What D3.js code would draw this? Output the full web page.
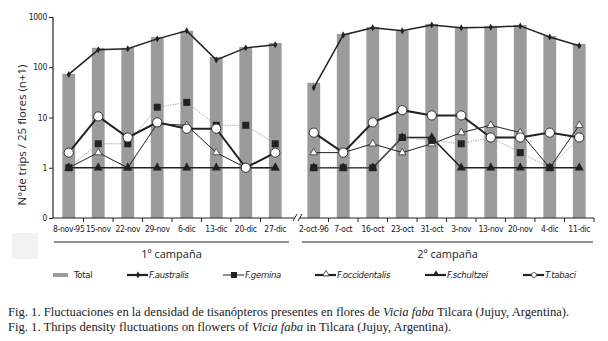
<!DOCTYPE html>
<html lang="es">
<head>
<meta charset="UTF-8">
<title>Fluctuaciones de tisanópteros en Vicia faba</title>
<script src="https://d3js.org/d3.v7.min.js"></script>
<style>
  body { margin: 0; background: #fff; }
  svg text { fill: #222; }
  .tick-lbl { font-family: "DejaVu Sans Condensed", "Liberation Sans Narrow", "Open Sans", sans-serif; font-stretch: condensed; font-size: 8.5px; letter-spacing: -0.3px; }
  .cap { font-family: "Liberation Serif", "DejaVu Serif", serif; font-size: 12.6px; }
</style>
</head>
<body>
<div id="chart"></div>
<script>
// fechas de muestreo, una lista por campaña
const dates1 = ["8-nov-95","15-nov","22-nov","29-nov","6-dic","13-dic","20-dic","27-dic"];
const dates2 = ["2-oct-96","7-oct","16-oct","23-oct","31-oct","3-nov","13-nov","20-nov","4-dic","11-dic"];

// n+1 trips / 25 flores (8 fechas 1a campaña + 10 fechas 2a campaña)
const total        = [74, 243, 243, 400, 530, 160, 253, 305,   49, 460, 635, 530, 730, 610, 665, 695, 420, 293];
const australis    = [72, 222, 233, 367, 530, 140, 243, 280,   39, 440, 610, 530, 690, 610, 625, 665, 400, 267];
const gemina       = [1, 3, 3, 16, 20, 7, 7, 3,                1, 1, 1, 4, 3.5, 3, 4, 2, 1, 4];
const occidentalis = [1, 2, 1, 7.5, 7, 2, 1, 1,                2, 2, 3, 2, 3, 5, 7, 5, 1, 7];
const schultzei    = [1, 1, 1, 1, 1, 1, 1, 1,                  1, 1, 1, 4, 4, 1, 1, 1, 1, 1];
const tabaci       = [2, 10.5, 4, 8, 6, 6, 1, 2,               5, 2, 8, 14, 11, 11, 4, 4, 5, 4];

const yTicks = [0.1, 1, 10, 100, 1000];
const yTickLabels = ["0", "1", "10", "100", "1000"];
const campaigns = ["1º campaña", "2º campaña"];

const width = 608, height = 341;
const svg = d3.select("#chart").append("svg")
  .attr("width", width).attr("height", height);

const y = d3.scaleLog().domain([0.1, 1000]).range([218, 17]);
const x1 = d3.scaleBand().domain(dates1).range([54, 290]).paddingInner(0.6).paddingOuter(0.3);
const x2 = d3.scaleBand().domain(dates2).range([299, 594]).paddingInner(0.6).paddingOuter(0.3);

// rows: one per date, with campaign index
const rows = dates1.map(d => ({date: d, c: 0})).concat(dates2.map(d => ({date: d, c: 1})));
rows.forEach((r, i) => {
  const sc = r.c === 0 ? x1 : x2;
  r.x = sc(r.date);
  r.cx = sc(r.date) + sc.bandwidth() / 2;
  r.i = i;
});

// little grey artefact box at left
svg.append("rect").attr("x", 12).attr("y", 233).attr("width", 26).attr("height", 26).attr("fill", "#f2f2f2");

// bars
svg.append("g").selectAll("rect")
  .data(rows)
  .join("rect")
  .attr("x", d => d.x - 0.5)
  .attr("width", x1.bandwidth() + 1)
  .attr("y", d => y(total[d.i]))
  .attr("height", d => 218 - y(total[d.i]))
  .attr("fill", "#9b9b9d");

// y axis
const yAxis = d3.axisLeft(y).tickValues(yTicks).tickFormat((d, i) => yTickLabels[i]).tickSize(4).tickPadding(2);
const gy = svg.append("g").attr("transform", "translate(53,0)").call(yAxis);
gy.select(".domain").attr("stroke", "#222").attr("stroke-width", 1.2).attr("d", "M0,17V218");
gy.selectAll("text").attr("class", "tick-lbl").attr("fill", "#222");
gy.selectAll(".tick line").attr("stroke", "#222");

// x axis: two segments with break
function xSeg(sc, dates, x0, x1e, first) {
  const g = svg.append("g");
  g.append("line").attr("x1", x0).attr("x2", x1e).attr("y1", 218).attr("y2", 218)
    .attr("stroke", "#222").attr("stroke-width", 1.2);
  const step = sc.step();
  const bounds = dates.map(d => sc(d) - (step - sc.bandwidth()) / 2).slice(1);
  bounds.push(sc(dates[dates.length - 1]) + sc.bandwidth() + (step - sc.bandwidth()) / 2);
  if (first) bounds.pop();
  g.selectAll(".tk").data(bounds).join("line")
    .attr("x1", d => d).attr("x2", d => d).attr("y1", 218).attr("y2", 222)
    .attr("stroke", "#222");
  g.selectAll("text").data(dates).join("text")
    .attr("class", "tick-lbl")
    .attr("x", d => sc(d) + sc.bandwidth() / 2)
    .attr("y", 232)
    .attr("text-anchor", "middle")
    .text(d => d);
}
xSeg(x1, dates1, 53, 294, true);
xSeg(x2, dates2, 300, 594, false);
// break marks
[[293, 299], [298, 304]].forEach(([a, b]) => {
  svg.append("line").attr("x1", a).attr("x2", b - 2).attr("y1", 221).attr("y2", 214)
    .attr("stroke", "#222").attr("stroke-width", 1);
});

// campaign brackets
[[54, 289], [302, 593]].forEach(([a, b], i) => {
  svg.append("line").attr("x1", a).attr("x2", b).attr("y1", 242).attr("y2", 242)
    .attr("stroke", "#222").attr("stroke-width", 1.2);
  svg.append("text").attr("x", (a + b) / 2).attr("y", 258).attr("text-anchor", "middle")
    .style("font-family", "'Open Sans', 'Noto Sans', sans-serif").style("font-size", "11px")
    .text(campaigns[i]);
});

// y label
svg.append("text")
  .attr("transform", "translate(26,135) rotate(-90)")
  .attr("text-anchor", "middle")
  .style("font-family", "'Open Sans', 'Noto Sans', sans-serif").style("font-size", "11.5px")
  .text("N°de trips / 25 flores (n+1)");

// series lines per campaign (drawing order matters for overlaps at 1)
const series = [
  {name: "F.australis", v: australis, stroke: "#222", sw: 1.5, dash: null, mk: "diamond"},
  {name: "F.occidentalis", v: occidentalis, stroke: "#222", sw: 1, dash: null, mk: "triW"},
  {name: "F.schultzei", v: schultzei, stroke: "#222", sw: 1.6, dash: null, mk: "triB"},
  {name: "F.gemina", v: gemina, stroke: "#999", sw: 0.8, dash: "1.5,1", mk: "square"},
  {name: "T.tabaci", v: tabaci, stroke: "#222", sw: 2, dash: null, mk: "circle"}
];

const line = d3.line().x(d => d.cx).y(d => d.yy);

function marker(g, type, cx, cy, s) {
  if (type === "diamond") {
    g.append("path").attr("d", d3.symbol(d3.symbolDiamond, 14)()).attr("transform", `translate(${cx},${cy})`).attr("fill", "#222");
  } else if (type === "square") {
    g.append("rect").attr("x", cx - 3.5).attr("y", cy - 3.5).attr("width", 7).attr("height", 7).attr("fill", "#222");
  } else if (type === "triB") {
    g.append("path").attr("d", d3.symbol(d3.symbolTriangle, s || 36)()).attr("transform", `translate(${cx},${cy})`).attr("fill", "#222");
  } else if (type === "triW") {
    g.append("path").attr("d", d3.symbol(d3.symbolTriangle, s || 24)()).attr("transform", `translate(${cx},${cy})`)
      .attr("fill", "#fff").attr("stroke", "#222").attr("stroke-width", 0.7);
  } else if (type === "circle") {
    g.append("circle").attr("cx", cx).attr("cy", cy).attr("r", 4.6).attr("fill", "#fff").attr("stroke", "#222").attr("stroke-width", 0.9);
  }
}

series.forEach(s => {
  const g = svg.append("g");
  [0, 1].forEach(c => {
    const pts = rows.filter(r => r.c === c).map(r => ({cx: r.cx, yy: y(s.v[r.i])}));
    g.append("path").attr("d", line(pts)).attr("fill", "none")
      .attr("stroke", s.stroke).attr("stroke-width", s.sw)
      .attr("stroke-dasharray", s.dash);
  });
  rows.forEach(r => marker(g, s.mk, r.cx, y(s.v[r.i])));
});

// legend
const legY = 275;
const lg = svg.append("g");
lg.append("rect").attr("x", 53).attr("y", legY - 2).attr("width", 15).attr("height", 4).attr("fill", "#9b9b9d");
lg.append("text").attr("x", 74).attr("y", legY + 3).attr("class", "tick-lbl").style("font-size", "9.5px").text("Total");
const byName = n => series.find(s => s.name === n);
const legItems = [
  {s: byName("F.australis"), x: 127},
  {s: byName("F.gemina"), x: 223},
  {s: byName("F.occidentalis"), x: 315},
  {s: byName("F.schultzei"), x: 425},
  {s: byName("T.tabaci"), x: 523}
];
legItems.forEach(({s, x}) => {
  lg.append("line").attr("x1", x).attr("x2", x + 21).attr("y1", legY).attr("y2", legY)
    .attr("stroke", "#222").attr("stroke-width", s.mk === "square" ? 1 : 2.2);
  const mg = lg.append("g");
  if (s.mk === "circle") {
    mg.append("circle").attr("cx", x + 11).attr("cy", legY).attr("r", 2.5).attr("fill", "#fff").attr("stroke", "#222").attr("stroke-width", 0.7);
  } else if (s.mk === "square") {
    mg.append("rect").attr("x", x + 8).attr("y", legY - 3).attr("width", 6).attr("height", 6).attr("fill", "#222");
  } else if (s.mk === "diamond") {
    marker(mg, "diamond", x + 11, legY);
  } else {
    marker(mg, s.mk, x + 11, legY - 1, 18);
  }
  lg.append("text").attr("x", x + 22).attr("y", legY + 3).attr("class", "tick-lbl")
    .style("font-style", "italic").style("font-size", "9.5px").text(s.name);
});

// caption
const cap = svg.append("g");
const l1 = cap.append("text").attr("class", "cap").attr("x", 8).attr("y", 316);
l1.append("tspan").text("Fig. 1. Fluctuaciones en la densidad de tisanópteros presentes en flores de ");
l1.append("tspan").style("font-style", "italic").text("Vicia faba");
l1.append("tspan").text(" Tilcara (Jujuy, Argentina).");
const l2 = cap.append("text").attr("class", "cap").attr("x", 8).attr("y", 331);
l2.append("tspan").text("Fig. 1. Thrips density fluctuations on flowers of ");
l2.append("tspan").style("font-style", "italic").text("Vicia faba");
l2.append("tspan").text(" in Tilcara (Jujuy, Argentina).");
</script>
</body>
</html>
